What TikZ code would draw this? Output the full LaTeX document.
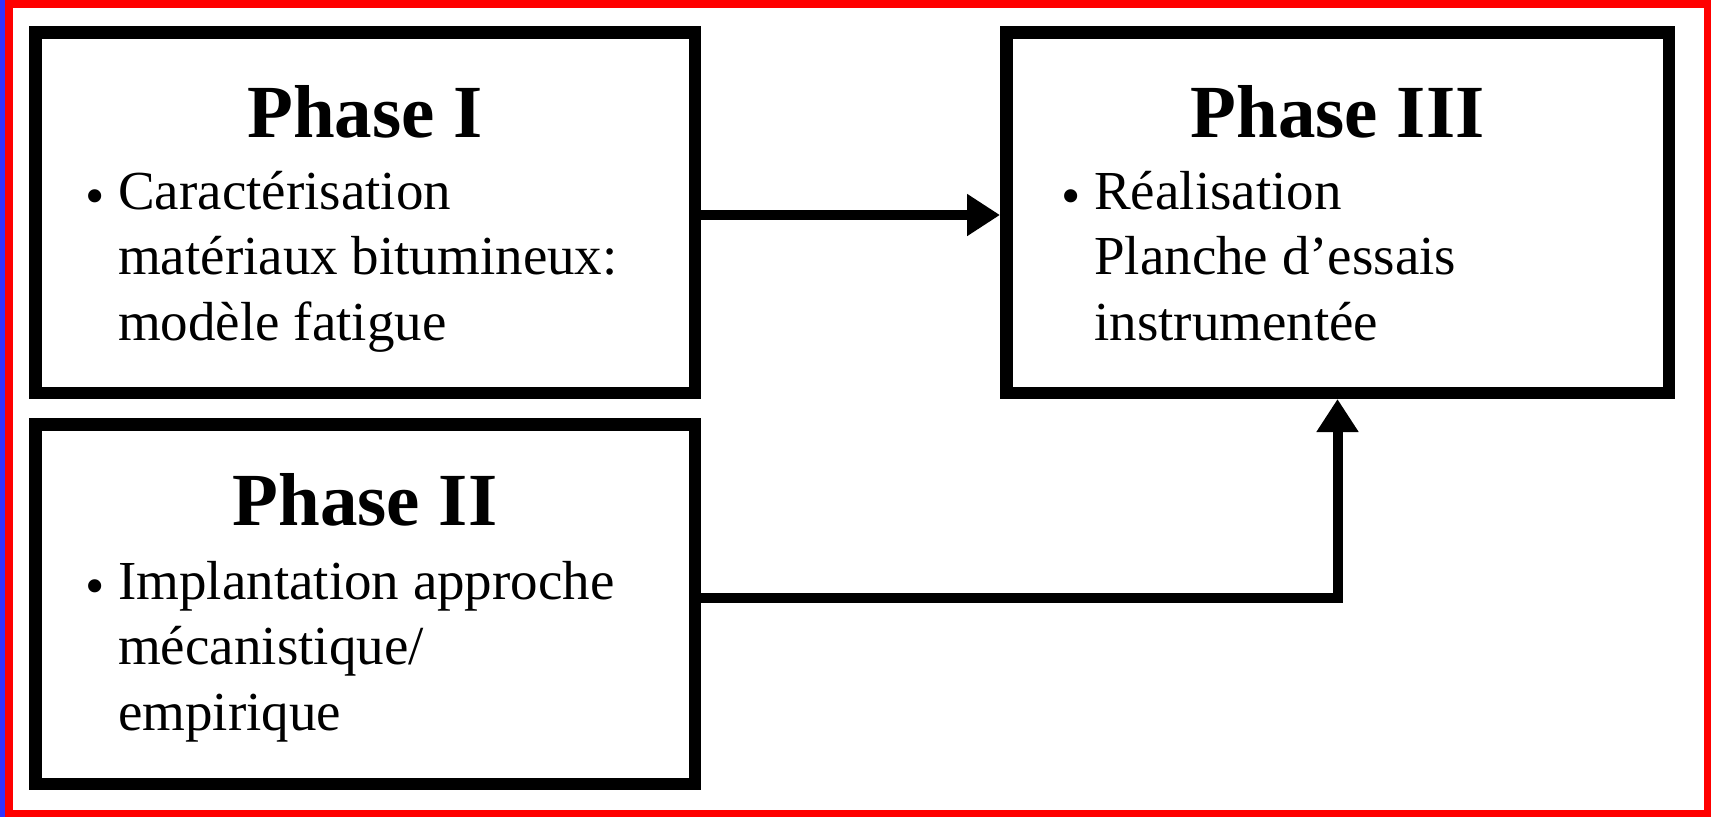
\documentclass[tikz,border=0pt]{standalone}
\usepackage{fontspec}
\setmainfont{Liberation Serif}
\usetikzlibrary{arrows.meta}

\definecolor{edgeblue}{RGB}{51,51,255}

\tikzset{
  phasebox/.style={draw=black, line width=12.5pt, rectangle, inner sep=0pt},
  phasetitle/.style={font=\fontsize{75}{75}\selectfont\bfseries, anchor=base, inner sep=0pt},
  phasetext/.style={font=\fontsize{55}{65.5}\selectfont, anchor=base west, inner sep=0pt},
  flow/.style={line width=10pt, -{Triangle[length=33pt, width=40pt]}}
}
\newcommand{\bul}{\llap{\raisebox{-5pt}{\textbullet}\hspace{13pt}}}

\begin{document}
\begin{tikzpicture}[x=1pt, y=-1pt]
\useasboundingbox (0,0) rectangle (1711,817);

%draw frame
\fill[edgeblue] (0,0) rectangle (5,817);
\draw[red, line width=7.5pt] (9,3.75) rectangle (1707.25,813.25);

%draw boxes
\node[phasebox, minimum width=659.5pt, minimum height=360.5pt] (p1) at (365,212.5) {};
\node[phasebox, minimum width=659.5pt, minimum height=359.5pt] (p2) at (365,604) {};
\node[phasebox, minimum width=662.5pt, minimum height=360.5pt] (p3) at (1337.5,212.5) {};

%titles and texts
\node[phasetitle] (t1) at (365,137) {Phase I};
\node[phasetext] (b1) at (118,209) {\vtop{\hbox{\bul Caractérisation}\hbox{matériaux bitumineux:}\hbox{modèle fatigue}}};

\node[phasetitle] (t2) at (365,525) {Phase II};
\node[phasetext] (b2) at (118,599) {\vtop{\hbox{\bul Implantation approche}\hbox{mécanistique/}\hbox{empirique}}};

\node[phasetitle] (t3) at (1337.5,137) {Phase III};
\node[phasetext] (b3) at (1094,209) {\vtop{\hbox{\bul Réalisation}\hbox{Planche d’essais}\hbox{instrumentée}}};

%draw arrows
\draw[flow] ([yshift=-2.5pt]p1.east) -- ([yshift=-2.5pt]p3.west);
\draw[flow] ([yshift=6pt]p2.east) -| (p3.south);
\end{tikzpicture}
\end{document}
